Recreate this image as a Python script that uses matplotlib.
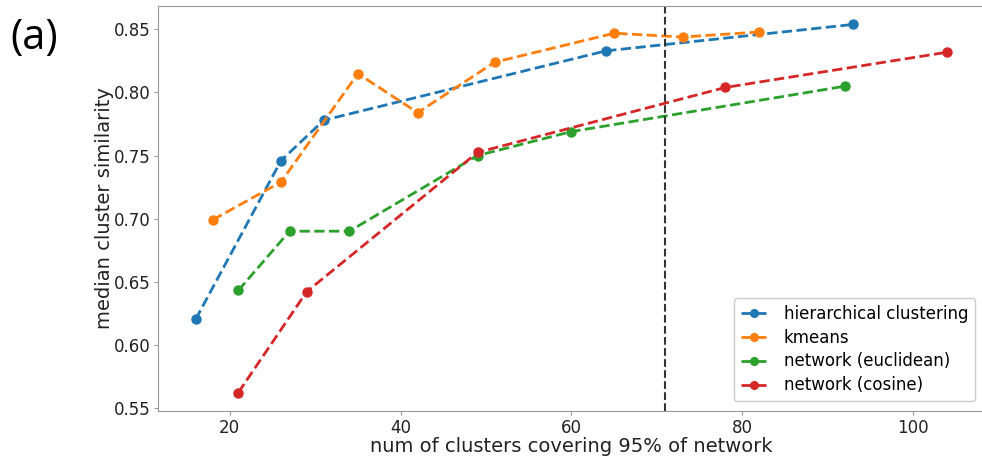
import matplotlib
matplotlib.use('Agg')
import matplotlib.pyplot as plt

# cluster counts and median similarity per method
hier_x = [16, 26, 31, 64, 93]
hier_y = [0.620, 0.746, 0.778, 0.833, 0.854]

kmeans_x = [18, 26, 35, 42, 51, 65, 73, 82]
kmeans_y = [0.699, 0.729, 0.815, 0.784, 0.824, 0.847, 0.844, 0.848]

euclid_x = [21, 27, 34, 49, 60, 92]
euclid_y = [0.643, 0.690, 0.690, 0.750, 0.769, 0.805]

cosine_x = [21, 29, 49, 78, 104]
cosine_y = [0.562, 0.642, 0.7525, 0.804, 0.832]

cutoff_x = 71

fig = plt.figure(figsize=(9.82, 4.57), dpi=100)
ax = fig.add_axes([158 / 982, 1 - 411 / 457, (985 - 158) / 982, (411 - 6) / 457])

series = [
    (hier_x, hier_y, 'hierarchical clustering', 'C0'),
    (kmeans_x, kmeans_y, 'kmeans', 'C1'),
    (euclid_x, euclid_y, 'network (euclidean)', 'C2'),
    (cosine_x, cosine_y, 'network (cosine)', 'C3'),
]
for xs, ys, label, color in series:
    ax.plot(xs, ys, '--o', color=color, label=label, lw=2, ms=6.5)

ax.axvline(cutoff_x, color='#333333', ls='--', lw=1.5)

ax.set_xticks([20, 40, 60, 80, 100])
ax.set_yticks([0.55, 0.60, 0.65, 0.70, 0.75, 0.80, 0.85])
ax.tick_params(labelsize=12, colors='#222222', length=3, pad=2.5)
ax.tick_params(color='#999999')
for sp in ax.spines.values():
    sp.set_color('#999999')

ax.set_xlabel('num of clusters covering 95% of network', fontsize=14, color='#222222', labelpad=0)
ax.set_ylabel('median cluster similarity', fontsize=14, color='#222222', labelpad=0)

leg = ax.legend(loc='lower right', fontsize=12, framealpha=1, borderaxespad=0.6,
                handlelength=1.6, handletextpad=1.0, labelspacing=0.35, markerscale=0.85)

fig.text(0.011, 0.962, '(a)', fontsize=30, va='top', ha='left', family='Open Sans')

fig.savefig('out.png', dpi=100)
